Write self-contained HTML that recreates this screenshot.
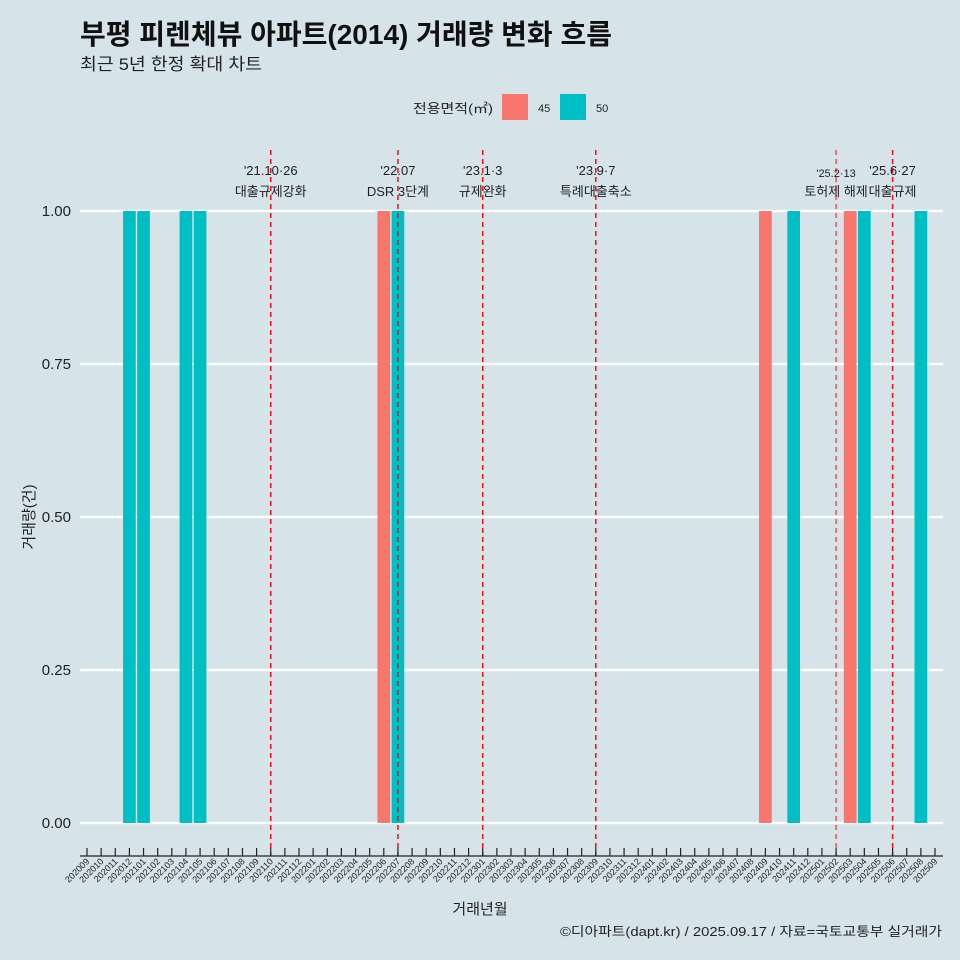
<!DOCTYPE html>
<html><head><meta charset="utf-8">
<style>
html,body{margin:0;padding:0;background:#d6e4ea;}
svg{display:block;font-family:"Liberation Sans","Noto Sans CJK KR",sans-serif;}
</style></head>
<body>
<svg id="chart" width="960" height="960" viewBox="0 0 960 960">
<rect x="0" y="0" width="960" height="960" fill="#d6e4ea"/>
<text x="80" y="44" font-size="28" font-weight="bold" fill="#111" textLength="532" lengthAdjust="spacingAndGlyphs">부평 피렌체뷰 아파트(2014) 거래량 변화 흐름</text>
<text x="80" y="70" font-size="17" fill="#222" textLength="182" lengthAdjust="spacingAndGlyphs">최근 5년 한정 확대 차트</text>
<g>
<text x="413" y="113" font-size="13" fill="#222" textLength="80" lengthAdjust="spacingAndGlyphs">전용면적(㎡)</text>
<rect x="502" y="94" width="26" height="26" fill="#f8766d"/>
<text x="538" y="112" font-size="11" fill="#222">45</text>
<rect x="560" y="94" width="26" height="26" fill="#00bfc4"/>
<text x="596" y="112" font-size="11" fill="#222">50</text>
</g>
<g id="grid"></g><g id="bars"></g><g id="events"></g><g id="xaxis"></g><g id="yaxis"></g>
<text x="480" y="914" font-size="15" text-anchor="middle" fill="#222">거래년월</text>
<text transform="translate(34,517) rotate(-90)" font-size="15" text-anchor="middle" fill="#222">거래량(건)</text>
<text x="560" y="936" font-size="13" fill="#222" textLength="382" lengthAdjust="spacingAndGlyphs">©디아파트(dapt.kr) / 2025.09.17 / 자료=국토교통부 실거래가</text>
</svg>
<script>
const categories=[];
for(let y=2020,m=9;!(y===2025&&m===10);){categories.push(''+y+(m<10?'0':'')+m);m++;if(m>12){m=1;y++;}}
const barMonths=['202012','202101','202104','202105','202206','202207','202409','202411','202503','202504','202508'];
const barGroups=['50','50','50','50','45','50','45','50','45','50','50'];
const barValues=[1,1,1,1,1,1,1,1,1,1,1];
const yTicks=[0,0.25,0.5,0.75,1];
const yTickLabels=['0.00','0.25','0.50','0.75','1.00'];
const eventMonths=['202110','202207','202301','202309','202502','202506'];
const eventDates=["'21.10·26","'22.07","'23.1·3","'23.9·7","'25.2·13","'25.6·27"];
const eventLabels=['대출규제강화','DSR 3단계','규제완화','특례대출축소','토허제 해제','대출규제'];

const NS='http://www.w3.org/2000/svg';
function el(tag,attrs,parent,text){const e=document.createElementNS(NS,tag);for(const k in attrs)e.setAttribute(k,attrs[k]);if(text!=null)e.textContent=text;parent.appendChild(e);return e;}
const x0=87,step=(935-87)/(categories.length-1);
const xs=c=>x0+categories.indexOf(c)*step;
const ys=v=>823-v*(823-211);
const colors={'45':'#f8766d','50':'#00bfc4'};
const grid=document.getElementById('grid');
yTicks.forEach((t,i)=>{
 const l=el('line',{x1:80,x2:943,y1:ys(t),y2:ys(t),stroke:'#fff','stroke-width':2.2},grid);
 
 
 const tx=el('text',{x:71,y:ys(t)+5,'font-size':15,'text-anchor':'end',fill:'#222'},document.getElementById('yaxis'),yTickLabels[i]);
 
 
});
const bw=step*0.9;
const bars=document.getElementById('bars');
barMonths.forEach((m,i)=>{
 const r=el('rect',{x:xs(m)-bw/2,y:ys(barValues[i]),width:bw,height:ys(0)-ys(barValues[i]),fill:colors[barGroups[i]]},bars);
 
 
});
const ev=document.getElementById('events');
eventMonths.forEach((m,i)=>{
 const x=xs(m);
 const l=el('line',{x1:x,x2:x,y1:150,y2:856,stroke:i===4?'#f05050':'#ee1111','stroke-width':1.5,'stroke-dasharray':'5,4'},ev);
 
 
 const small=i===4;
 const t1=el('text',{x:x,y:small?177:175,'font-size':small?11:13,'text-anchor':'middle',fill:'#222'},ev,eventDates[i]);
 
 
 const t2=el('text',{x:x,y:196,'font-size':13,'text-anchor':'middle',fill:'#222'},ev,eventLabels[i]);
 
 
});
const xa=document.getElementById('xaxis');
const ax=el('line',{x1:80,x2:943,y1:856,y2:856,stroke:'#222','stroke-width':1.3},xa);


categories.forEach(c=>{
 const x=xs(c);
 const tk=el('line',{x1:x,x2:x,y1:848,y2:856,stroke:'#222','stroke-width':1.2},xa);
 
 
 const t=el('text',{x:x+3,y:862,'font-size':9,'text-anchor':'end',fill:'#222',transform:`rotate(-45 ${x+3} 862)`},xa,c);
 
 
});
</script>
</body></html>
